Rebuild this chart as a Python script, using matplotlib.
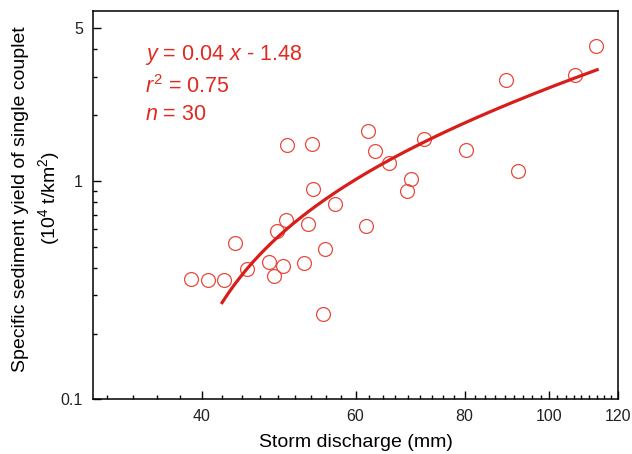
import numpy as np
import matplotlib
matplotlib.use("Agg")
import matplotlib.pyplot as plt
from matplotlib.ticker import FixedLocator, NullFormatter

plt.rcParams['font.family'] = ['Liberation Sans', 'DejaVu Sans']
plt.rcParams['mathtext.fontset'] = 'custom'
plt.rcParams['mathtext.rm'] = 'Liberation Sans'
plt.rcParams['mathtext.it'] = 'Liberation Sans:italic'

# storm discharge (mm) and specific sediment yield (10^4 t/km2)
discharge = [38.9, 40.7, 42.4, 43.7, 45.1, 47.7, 48.4, 48.8, 49.6, 50.0,
             50.1, 52.4, 53.0, 53.5, 53.7, 55.3, 55.1, 56.9, 62.0, 61.7,
             63.2, 65.6, 68.8, 69.4, 71.8, 80.3, 89.3, 92.0, 107.0, 113.1]
sediment = [0.357, 0.350, 0.351, 0.517, 0.393, 0.425, 0.366, 0.589, 0.408, 0.663,
            1.46, 0.423, 0.636, 1.48, 0.916, 0.489, 0.247, 0.785, 1.70, 0.621,
            1.367, 1.214, 0.900, 1.021, 1.55, 1.382, 2.91, 1.116, 3.07, 4.13]

# fitted line as drawn
slope, intercept = 0.0414, -1.47
fit_range = (42.2, 113.5)

x_major = [40, 60, 80, 100, 120]
x_labels = ['40', '60', '80', '100', '120']
y_major = [0.1, 1, 5]
y_labels = ['0.1', '1', '5']
y_minor = [0.2, 0.3, 0.4, 0.5, 0.6, 0.7, 0.8, 0.9, 2, 3, 4]

red_line = '#d81e1a'
red_mark = '#e8493b'
red_text = '#e02a22'

fig = plt.figure(figsize=(6.32, 4.54), dpi=100)
ax = fig.add_axes([0.1467, 0.1205, 0.8316, 0.8553])

ax.plot(discharge, sediment, 'o', ms=10, mfc='none', mec=red_mark, mew=0.9)
xf = np.linspace(fit_range[0], fit_range[1], 200)
ax.plot(xf, slope * xf + intercept, color=red_line, lw=2.3)

ax.set_xscale('log')
ax.set_yscale('log')
ax.set_xlim(30, 120)
ax.set_ylim(0.1, 6)

ax.xaxis.set_major_locator(FixedLocator(x_major))
ax.set_xticklabels(x_labels)
x_minor = [v for v in 40 + np.arange(-4, 37) * 20 / 9
           if 30 < v < 120 and min(abs(v - m) for m in x_major) > 0.5]
ax.xaxis.set_minor_locator(FixedLocator(x_minor))
ax.xaxis.set_minor_formatter(NullFormatter())

ax.yaxis.set_major_locator(FixedLocator(y_major))
ax.set_yticklabels(y_labels)
ax.yaxis.set_minor_locator(FixedLocator(y_minor))
ax.yaxis.set_minor_formatter(NullFormatter())

ax.tick_params(which='both', direction='in', labelsize=11.5, pad=7, width=1.0,
               labelcolor='#222222')
ax.tick_params(which='major', length=5.5)
ax.tick_params(which='minor', length=3)
for s in ax.spines.values():
    s.set_linewidth(1.1)

ax.set_xlabel('Storm discharge (mm)', fontsize=14, labelpad=7)
fig.text(0.033, 0.562, 'Specific sediment yield of single couplet',
         rotation=90, ha='center', va='center', fontsize=14)
fig.text(0.077, 0.565, r'(10$^4$ t/km$^2$)',
         rotation=90, ha='center', va='center', fontsize=14)

ax.text(0.1, 0.875, r'$y$ = 0.04 $x$ - 1.48', transform=ax.transAxes,
        fontsize=15.5, color=red_text)
ax.text(0.1, 0.79, r'$r^2$ = 0.75', transform=ax.transAxes,
        fontsize=15.5, color=red_text)
ax.text(0.1, 0.72, r'$n$ = 30', transform=ax.transAxes,
        fontsize=15.5, color=red_text)

fig.savefig('out.png', dpi=100)
